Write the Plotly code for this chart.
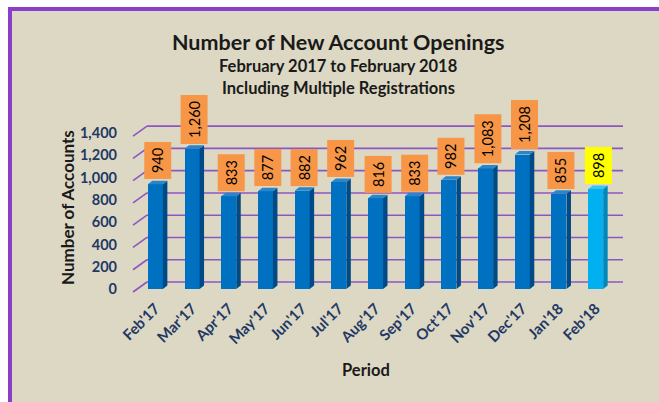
import plotly.graph_objects as go

periods = ["Feb'17", "Mar'17", "Apr'17", "May'17", "Jun'17", "Jul'17", "Aug'17",
           "Sep'17", "Oct'17", "Nov'17", "Dec'17", "Jan'18", "Feb'18"]
accounts = [940, 1260, 833, 877, 882, 962, 816, 833, 982, 1083, 1208, 855, 898]
y_ticks = [0, 200, 400, 600, 800, 1000, 1200, 1400]
y_ticktext = ["0", "200", "400", "600", "800", "1,000", "1,200", "1,400"]

W, H = 659, 402
L, R, T, B = 137, 614, 122, 289
YMAX = 1500
NAVY = "#1F3864"
BG = "#DDD8C4"
GRID = "#8C56C2"
BORDER = "#8A3FC8"
FONT = "Lato"

def px(xp):
    return (xp - L) / (R - L)

def py(yp):
    return (B - yp) / (B - T)

k = (B - T) / YMAX          # pixels per unit
unit_px = (R - L) / len(periods)
bw = 0.41
side_dx = 4.5 / unit_px
top_dy = 3.5 / k

xs = list(range(len(periods)))
front = ["#0070C0"] * (len(periods) - 1) + ["#00B0F0"]
sides = ["#004B86"] * (len(periods) - 1) + ["#0088BA"]
tops = ["#2B86C9"] * (len(periods) - 1) + ["#3CC2F3"]
label_bg = ["#F79646"] * (len(periods) - 1) + ["#FFFF00"]

fig = go.Figure()
fig.add_trace(go.Bar(x=xs, y=accounts, width=bw, marker=dict(color=front, line=dict(width=0)),
                     hoverinfo="skip"))

shapes = []
# white outer strips and purple border
shapes.append(dict(type="rect", xref="paper", yref="paper", x0=px(0), x1=px(W), y0=py(0), y1=py(7),
                   fillcolor="#FFFFFF", line=dict(width=0), layer="below"))
shapes.append(dict(type="rect", xref="paper", yref="paper", x0=px(0), x1=px(8), y0=py(0), y1=py(H),
                   fillcolor="#FFFFFF", line=dict(width=0), layer="below"))
shapes.append(dict(type="rect", xref="paper", yref="paper", x0=px(8), x1=px(W), y0=py(7), y1=py(11),
                   fillcolor=BORDER, line=dict(width=0), layer="below"))
shapes.append(dict(type="rect", xref="paper", yref="paper", x0=px(8), x1=px(12), y0=py(7), y1=py(H),
                   fillcolor=BORDER, line=dict(width=0), layer="below"))
# back-wall gridlines with diagonal connectors
for v in y_ticks:
    f = B - v * k
    shapes.append(dict(type="line", xref="paper", yref="paper", x0=px(133), y0=py(f + 3), x1=px(147), y1=py(f - 7),
                       line=dict(color=GRID, width=1.6), layer="below"))
    shapes.append(dict(type="line", xref="paper", yref="paper", x0=px(147), y0=py(f - 7), x1=px(623), y1=py(f - 7),
                       line=dict(color=GRID, width=1.6), layer="below"))
# 3D faces of bars
for i, v in enumerate(accounts):
    x1 = i + bw / 2
    x0 = i - bw / 2
    shapes.append(dict(type="path", xref="x", yref="y",
                       path=f"M {x1},0 L {x1 + side_dx},{top_dy} L {x1 + side_dx},{v + top_dy} L {x1},{v} Z",
                       fillcolor=sides[i], line=dict(width=0)))
    shapes.append(dict(type="path", xref="x", yref="y",
                       path=f"M {x0},{v} L {x0 + side_dx},{v + top_dy} L {x1 + side_dx},{v + top_dy} L {x1},{v} Z",
                       fillcolor=tops[i], line=dict(width=0)))

annotations = []
for i, v in enumerate(accounts):
    txt = f"{v:,}"
    annotations.append(dict(x=i + side_dx / 2, y=v + top_dy, xref="x", yref="y", text=txt, showarrow=False,
                            textangle=-90, xanchor="center", yanchor="bottom", yshift=1,
                            bgcolor=label_bg[i], borderpad=4,
                            width=28 if len(txt) <= 3 else 40, height=18,
                            font=dict(family=FONT, size=14.5, color="#000000")))

def label(xp, yp, text, size, angle=0):
    return dict(x=px(xp), y=py(yp), xref="paper", yref="paper", text=text, showarrow=False,
                xanchor="center", yanchor="middle", textangle=angle,
                font=dict(family=FONT, size=size, color="#1a1a1a"))

annotations += [
    label(338, 42, "<b>Number of New Account Openings</b>", 21.5),
    label(338, 66, "<b>February 2017 to February 2018</b>", 16.5),
    label(338, 88, "<b>Including Multiple Registrations</b>", 16.5),
    label(67, 208, "<b>Number of Accounts</b>", 17, -90),
    label(366, 370, "<b>Period</b>", 16.5),
]

fig.update_layout(
    width=W, height=H,
    margin=dict(l=L, r=W - R, t=T, b=H - B, pad=0),
    paper_bgcolor=BG, plot_bgcolor="rgba(0,0,0,0)",
    showlegend=False, bargap=0,
    shapes=shapes, annotations=annotations,
    xaxis=dict(range=[-0.5, len(periods) - 0.5], tickvals=xs, ticktext=[f"<b>{p}</b>" for p in periods],
               tickangle=-45, showgrid=False, zeroline=False, showline=False, ticks="",
               ticklabelstandoff=7, tickfont=dict(family=FONT, size=15, color=NAVY)),
    yaxis=dict(range=[0, YMAX], tickvals=y_ticks, ticktext=[f"<b>{t}</b>" for t in y_ticktext],
               showgrid=False, zeroline=False, showline=False, ticks="", ticklabelstandoff=19,
               tickfont=dict(family=FONT, size=14.5, color=NAVY)),
)

fig.write_html("out.html", config={"displayModeBar": False},
               post_script="document.body.style.margin='0';")
